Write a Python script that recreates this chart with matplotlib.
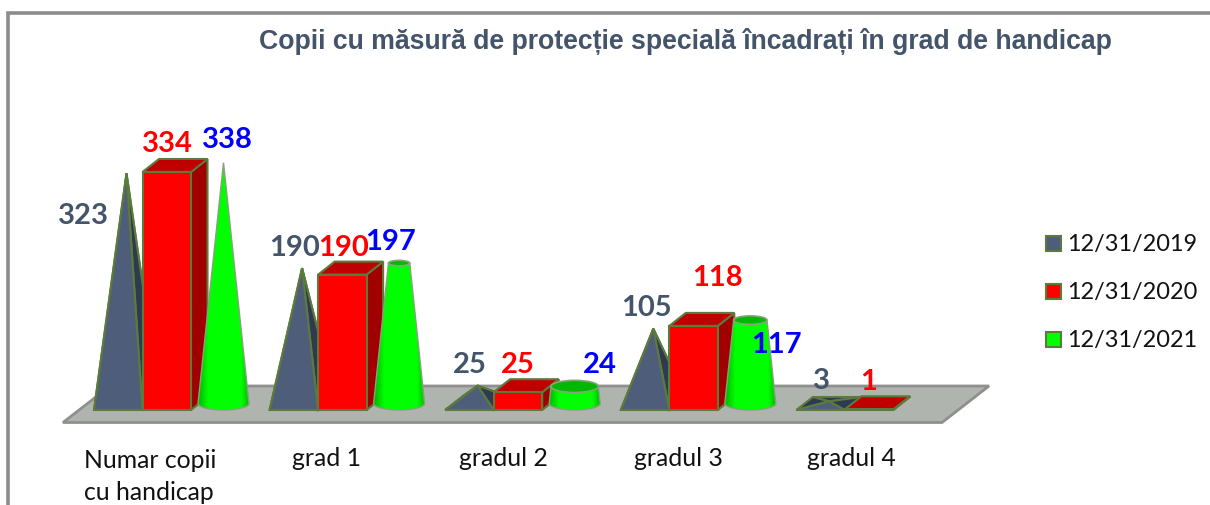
import numpy as np
import matplotlib
matplotlib.use("Agg")
import matplotlib.pyplot as plt
from matplotlib.patches import Polygon, Ellipse, Rectangle

categories = ["Numar copii\ncu handicap", "grad 1", "gradul 2", "gradul 3", "gradul 4"]
dates = ["12/31/2019", "12/31/2020", "12/31/2021"]
v2019 = [323, 190, 25, 105, 3]
v2020 = [334, 190, 25, 118, 1]
v2021 = [338, 197, 24, 117, None]
title = "Copii cu măsură de protecție specială încadrați în grad de handicap"

# --- colours ---
EDGE = "#5b7a3c"
GREY, GREY_D = "#4e5e7a", "#2e3a50"
RED, RED_S, RED_T = "#ff0000", "#a00000", "#c00000"
GREEN, GREEN_T = "#00ff00", "#00b800"
TXT_GREY = "#44546a"

# --- scale, everything in image pixels ---
Y0 = 411.0        # front of the floor
PX = 0.7126       # pixels per unit
X0, STEP = 94.0, 175.6
W = 48.5
DX, DY = 16.5, -13.0
VMAX = 338.0      # cones run to the max value

fig = plt.figure(figsize=(12.10, 5.06), dpi=100)
ax = fig.add_axes([0, 0, 1, 1])


def pyramid(x, val):
    cx, cy = x + W / 2 + DX / 2, Y0 + DY / 2
    apex = (cx, cy - val * PX)
    fl, fr = (x, Y0), (x + W, Y0)
    bl, br = (x + DX, Y0 + DY), (x + W + DX, Y0 + DY)
    for pts, c in [([bl, br, apex], GREY_D), ([fl, bl, apex], GREY_D), ([fr, br, apex], GREY_D), ([fl, fr, apex], GREY)]:
        ax.add_patch(Polygon(pts, fc=c, ec=EDGE, lw=1.5, zorder=3))


def box(x, val):
    h = val * PX
    ax.add_patch(Polygon([(x + W, Y0), (x + W + DX, Y0 + DY), (x + W + DX, Y0 + DY - h), (x + W, Y0 - h)],
                         fc=RED_S, ec=EDGE, lw=1.5, zorder=4))
    ax.add_patch(Polygon([(x, Y0 - h), (x + W, Y0 - h), (x + W + DX, Y0 + DY - h), (x + DX, Y0 + DY - h)],
                         fc=RED_T, ec=EDGE, lw=1.5, zorder=4))
    ax.add_patch(Rectangle((x, Y0 - h), W, h, fc=RED, ec=EDGE, lw=1.5, zorder=4))


def cone(x, val):
    # truncated cone, top radius shrinks toward the max value
    cx, cy = x + 129.5, Y0 + DY / 2
    rx, ry = 25.5, 6.5
    h = val * PX
    top = rx * (1 - val / VMAX)
    ry_top = ry * (1 - val / VMAX)
    ts = np.linspace(np.pi, 0, 40)
    base = np.c_[cx + rx * np.cos(ts), cy + ry * np.sin(ts)]
    body = np.vstack([[(cx - top, cy - h)], base, [(cx + top, cy - h)]])
    poly = Polygon(body, fc="none", ec="none", zorder=5)
    ax.add_patch(poly)
    grad = np.interp(np.linspace(0, 1, 64), [0, .2, .5, .85, 1], [.72, 1, 1, 1, .74])
    im = ax.imshow(np.c_[np.zeros(64), grad, np.zeros(64)].reshape(1, 64, 3), zorder=5, aspect="auto",
                   extent=(cx - rx, cx + rx, cy + ry, cy - h - 2))
    im.set_clip_path(poly)
    ax.add_patch(Polygon(body, fc="none", ec="#86a37a", lw=1, zorder=6))
    if top > 0.5:
        ax.add_patch(Ellipse((cx, cy - h), 2 * top, 2 * ry_top, fc=GREEN_T, ec="#86a37a", lw=1.2, zorder=6))


# --- floor ---
ax.add_patch(Polygon([(63, 423.5), (942, 423.5), (989, 387), (110, 387)], fc="#b0b4ae", ec="#8f8f8f", lw=2, zorder=1))

# --- bars ---
for i in range(len(categories)):
    x = X0 + i * STEP
    pyramid(x, v2019[i])
    box(x + W, v2020[i])
    if v2021[i] is not None:
        cone(x, v2021[i])

# --- value labels ---
pos2019 = [(83, 216), (295, 248), (470, 365), (646, 308), (821, 381)]
pos2020 = [(167, 144), (344, 248), (518, 365), (717, 278), (869, 382)]
pos2021 = [(227, 140), (391, 242), (600, 365), (776, 345)]
for vals, pos, col in [(v2019, pos2019, TXT_GREY), (v2020, pos2020, "#ff0000"), (v2021, pos2021, "#0000ff")]:
    for v, (px, py) in zip(vals, pos):
        ax.text(px, py, str(v), color=col, fontsize=21, family="Lato", weight="bold", ha="center", va="center", zorder=8)

# --- category labels ---
ax.text(84, 476.5, categories[0], fontsize=17.8, family="Lato", color="#111111", va="center", ha="left", linespacing=1.5)
for i, cx in zip(range(1, 5), [327, 503, 678, 851]):
    ax.text(cx, 458.5, categories[i], fontsize=17.8, family="Lato", color="#111111", va="center", ha="center")

# --- legend ---
for d, c, sy in zip(dates, [GREY, RED, GREEN], [244, 292.5, 340.5]):
    ax.add_patch(Rectangle((1045.5, sy - 7.5), 15, 15, fc=c, ec=EDGE, lw=1.5))
    ax.text(1067, sy, d, fontsize=16.9, family="Lato", color="#111111", va="center", ha="left")

ax.text(685, 41.5, title, fontsize=19.2, family="Liberation Sans", weight="bold", color=TXT_GREY, ha="center", va="center")

# --- frame ---
ax.plot([1210, 7.5, 7.5], [13.5, 13.5, 506], color="#8c8c8c", lw=2.6, solid_joinstyle="miter", solid_capstyle="butt")

ax.set_xlim(0, 1210)
ax.set_ylim(506, 0)
ax.axis("off")
fig.savefig("out.png", dpi=100)
